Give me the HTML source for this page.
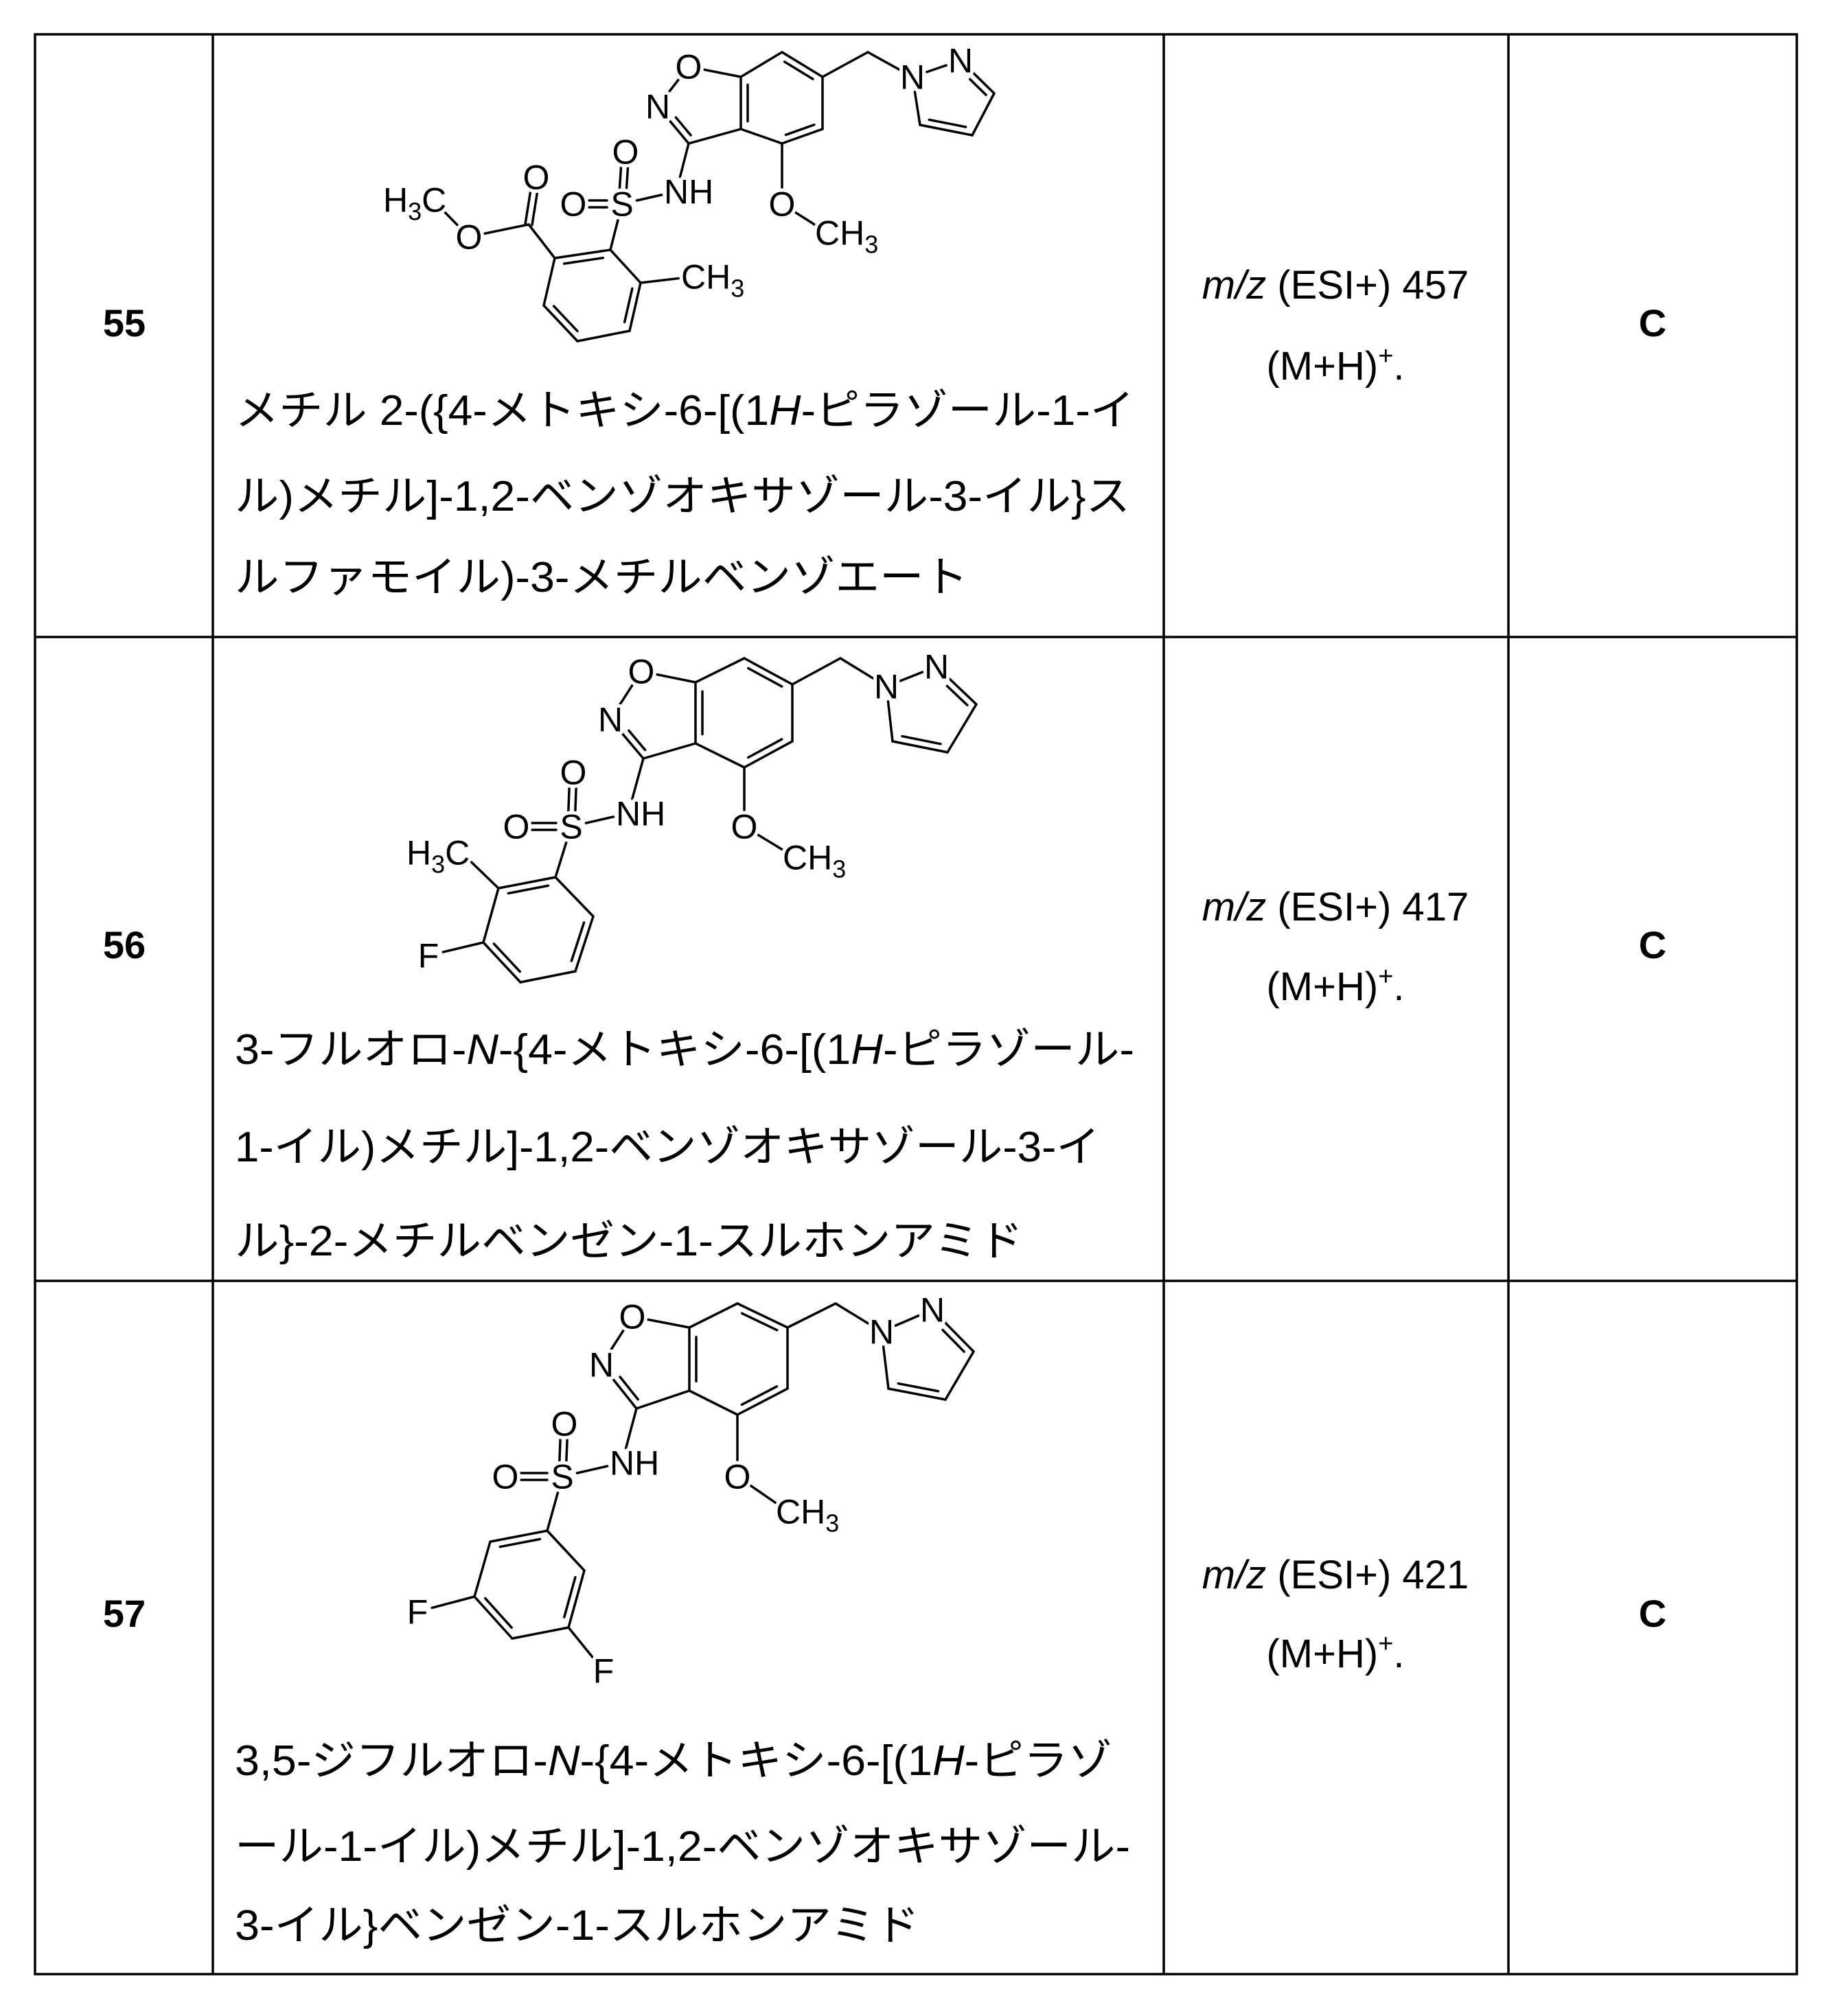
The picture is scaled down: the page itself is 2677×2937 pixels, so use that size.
<!DOCTYPE html>
<html><head><meta charset="utf-8">
<style>
html,body{margin:0;padding:0;background:#fff;}
svg{display:block;}
text{font-family:"Liberation Sans","Noto Sans CJK JP",sans-serif;fill:#000;}
.lab{font-size:50px;stroke:#fff;stroke-width:10px;paint-order:stroke;stroke-linejoin:round;}
.jp{font-size:62px;}
.num{font-size:56px;font-weight:bold;}
.ms{font-size:58px;}
</style></head>
<body>
<svg id="s" width="2677" height="2937" viewBox="0 0 2677 2937" xmlns="http://www.w3.org/2000/svg">
<rect width="2677" height="2937" fill="#fff"/>
<g stroke="#000" stroke-width="3.5" fill="none">
<rect x="51" y="50" width="2566" height="2826"/>
<line x1="310" y1="50" x2="310" y2="2876"/>
<line x1="1695" y1="50" x2="1695" y2="2876"/>
<line x1="2197" y1="50" x2="2197" y2="2876"/>
<line x1="51" y1="928" x2="2617" y2="928"/>
<line x1="51" y1="1866" x2="2617" y2="1866"/>
</g>
<g id="bonds" stroke="#000" stroke-width="3.5" stroke-linecap="round"></g>

<!-- Row 55 labels -->
<g class="lab">
<text x="1003" y="97" dy="0.35em" text-anchor="middle">O</text>
<text x="958" y="155" dy="0.35em" text-anchor="middle">N</text>
<text x="1139" y="297" dy="0.35em" text-anchor="middle">O</text>
<text x="1187" y="339" dy="0.35em">CH<tspan font-size="36" dy="12">3</tspan></text>
<text x="1329" y="112" dy="0.35em" text-anchor="middle">N</text>
<text x="1399" y="88" dy="0.35em" text-anchor="middle">N</text>
<text x="967" y="279" dy="0.35em">NH</text>
<text x="906" y="297" dy="0.35em" text-anchor="middle">S</text>
<text x="911" y="221" dy="0.35em" text-anchor="middle">O</text>
<text x="835" y="297" dy="0.35em" text-anchor="middle">O</text>
<text x="992" y="403" dy="0.35em">CH<tspan font-size="36" dy="12">3</tspan></text>
<text x="781" y="258" dy="0.35em" text-anchor="middle">O</text>
<text x="683" y="345" dy="0.35em" text-anchor="middle">O</text>
<text x="558" y="291" dy="0.35em">H<tspan font-size="36" dy="12">3</tspan><tspan dy="-12">C</tspan></text>
</g>
<!-- Row 56 labels -->
<g class="lab">
<text x="934" y="978" dy="0.35em" text-anchor="middle">O</text>
<text x="889" y="1048" dy="0.35em" text-anchor="middle">N</text>
<text x="1084" y="1204" dy="0.35em" text-anchor="middle">O</text>
<text x="1140" y="1249" dy="0.35em">CH<tspan font-size="36" dy="12">3</tspan></text>
<text x="1291" y="1000" dy="0.35em" text-anchor="middle">N</text>
<text x="1364" y="971" dy="0.35em" text-anchor="middle">N</text>
<text x="897" y="1185" dy="0.35em">NH</text>
<text x="832" y="1204" dy="0.35em" text-anchor="middle">S</text>
<text x="835" y="1125" dy="0.35em" text-anchor="middle">O</text>
<text x="752" y="1204" dy="0.35em" text-anchor="middle">O</text>
<text x="592" y="1242" dy="0.35em">H<tspan font-size="36" dy="12">3</tspan><tspan dy="-12">C</tspan></text>
<text x="624" y="1392" dy="0.35em" text-anchor="middle">F</text>
</g>
<!-- Row 57 labels -->
<g class="lab">
<text x="921" y="1918" dy="0.35em" text-anchor="middle">O</text>
<text x="876" y="1988" dy="0.35em" text-anchor="middle">N</text>
<text x="1074" y="2151" dy="0.35em" text-anchor="middle">O</text>
<text x="1130" y="2202" dy="0.35em">CH<tspan font-size="36" dy="12">3</tspan></text>
<text x="1284" y="1940" dy="0.35em" text-anchor="middle">N</text>
<text x="1358" y="1908" dy="0.35em" text-anchor="middle">N</text>
<text x="888" y="2131" dy="0.35em">NH</text>
<text x="819" y="2151" dy="0.35em" text-anchor="middle">S</text>
<text x="822" y="2074" dy="0.35em" text-anchor="middle">O</text>
<text x="736" y="2151" dy="0.35em" text-anchor="middle">O</text>
<text x="608" y="2348" dy="0.35em" text-anchor="middle">F</text>
<text x="879" y="2434" dy="0.35em" text-anchor="middle">F</text>
</g>

<!-- Japanese names -->
<text class="jp" x="342" y="619" textLength="1310" lengthAdjust="spacingAndGlyphs">メチル 2-({4-メトキシ-6-[(1<tspan font-style="italic">H</tspan>-ピラゾール-1-イ</text>
<text class="jp" x="342" y="744" textLength="1304" lengthAdjust="spacingAndGlyphs">ル)メチル]-1,2-ベンゾオキサゾール-3-イル}ス</text>
<text class="jp" x="342" y="862" textLength="1068" lengthAdjust="spacingAndGlyphs">ルファモイル)-3-メチルベンゾエート</text>

<text class="jp" x="342" y="1550" textLength="1310" lengthAdjust="spacingAndGlyphs">3-フルオロ-<tspan font-style="italic">N</tspan>-{4-メトキシ-6-[(1<tspan font-style="italic">H</tspan>-ピラゾール-</text>
<text class="jp" x="342" y="1692" textLength="1260" lengthAdjust="spacingAndGlyphs">1-イル)メチル]-1,2-ベンゾオキサゾール-3-イ</text>
<text class="jp" x="342" y="1829" textLength="1148" lengthAdjust="spacingAndGlyphs">ル}-2-メチルベンゼン-1-スルホンアミド</text>

<text class="jp" x="342" y="2586" textLength="1278" lengthAdjust="spacingAndGlyphs">3,5-ジフルオロ-<tspan font-style="italic">N</tspan>-{4-メトキシ-6-[(1<tspan font-style="italic">H</tspan>-ピラゾ</text>
<text class="jp" x="342" y="2711" textLength="1304" lengthAdjust="spacingAndGlyphs">ール-1-イル)メチル]-1,2-ベンゾオキサゾール-</text>
<text class="jp" x="342" y="2826" textLength="997" lengthAdjust="spacingAndGlyphs">3-イル}ベンゼン-1-スルホンアミド</text>

<!-- numbers -->
<text class="num" x="181" y="490" text-anchor="middle">55</text>
<text class="num" x="181" y="1396" text-anchor="middle">56</text>
<text class="num" x="181" y="2370" text-anchor="middle">57</text>
<text class="num" x="2407" y="490" text-anchor="middle">C</text>
<text class="num" x="2407" y="1396" text-anchor="middle">C</text>
<text class="num" x="2407" y="2370" text-anchor="middle">C</text>

<text class="ms" x="1945" y="435" text-anchor="middle"><tspan font-style="italic">m/z</tspan> (ESI+) 457</text>
<text class="ms" x="1945" y="553" text-anchor="middle">(M+H)<tspan font-size="38" dy="-22">+</tspan><tspan dy="22">.</tspan></text>
<text class="ms" x="1945" y="1341" text-anchor="middle"><tspan font-style="italic">m/z</tspan> (ESI+) 417</text>
<text class="ms" x="1945" y="1457" text-anchor="middle">(M+H)<tspan font-size="38" dy="-22">+</tspan><tspan dy="22">.</tspan></text>
<text class="ms" x="1945" y="2314" text-anchor="middle"><tspan font-style="italic">m/z</tspan> (ESI+) 421</text>
<text class="ms" x="1945" y="2429" text-anchor="middle">(M+H)<tspan font-size="38" dy="-22">+</tspan><tspan dy="22">.</tspan></text>
</svg>
<script>
(function(){
var g=document.getElementById('bonds'),NS='http://www.w3.org/2000/svg';
var R={O1:23,N2:22,Om:23,P1:22,P2:22,NH:22,S:22,So1:23,So2:23,Eo1:23,Eo2:23,F1:22,F2:22,Mc:20,Bm:20,Em:20};
function L(a,b){var l=document.createElementNS(NS,'line');l.setAttribute('x1',a[0]);l.setAttribute('y1',a[1]);l.setAttribute('x2',b[0]);l.setAttribute('y2',b[1]);g.appendChild(l);}
function cen(A,names){var x=0,y=0;names.forEach(function(n){x+=A[n][0];y+=A[n][1];});return [x/names.length,y/names.length];}
function draw(A,bonds){
 bonds.forEach(function(bd){
  var a0=A[bd[0]],b0=A[bd[1]],t=bd[2]||1;
  var dx=b0[0]-a0[0],dy=b0[1]-a0[1],len=Math.sqrt(dx*dx+dy*dy),ux=dx/len,uy=dy/len,nx=-uy,ny=ux;
  var ra=R[bd[0]]||0,rb=R[bd[1]]||0;
  var a=[a0[0]+ux*ra,a0[1]+uy*ra],b=[b0[0]-ux*rb,b0[1]-uy*rb];
  if(t==='d'){var o=5;L([a[0]+nx*o,a[1]+ny*o],[b[0]+nx*o,b[1]+ny*o]);L([a[0]-nx*o,a[1]-ny*o],[b[0]-nx*o,b[1]-ny*o]);return;}
  L(a,b);
  if(t===2){var c=bd[3];var mx=(a0[0]+b0[0])/2,my=(a0[1]+b0[1])/2;
   var s=((c[0]-mx)*nx+(c[1]-my)*ny)>0?1:-1;var o=10*s;
   var bx=b[0]-a[0],by=b[1]-a[1],p=0.15;
   L([a[0]+bx*p+nx*o,a[1]+by*p+ny*o],[b[0]-bx*p+nx*o,b[1]-by*p+ny*o]);}
 });
}
function core(A){
 var c5=cen(A,['O1','N2','C3','C3a','C7a']),c6=cen(A,['C3a','C7a','C7','C6','C5','C4']),cp=cen(A,['P1','P2','P3','P4','P5']),cb=cen(A,['B1','B2','B3','B4','B5','B6']);
 return [['O1','N2'],['N2','C3',2,c5],['C3','C3a'],['C3a','C7a',2,c6],['C7a','O1'],
 ['C7a','C7'],['C7','C6',2,c6],['C6','C5'],['C5','C4',2,c6],['C4','C3a'],
 ['C4','Om'],['Om','Mc'],['C6','CH2'],['CH2','P1'],
 ['P1','P2'],['P2','P3',2,cp],['P3','P4'],['P4','P5',2,cp],['P5','P1'],
 ['C3','NH'],['NH','S'],['S','So1','d'],['S','So2','d'],['S','B1'],
 ['B1','B2',2,cb],['B2','B3'],['B3','B4',2,cb],['B4','B5'],['B5','B6',2,cb],['B6','B1']];
}
var A1={O1:[1003,97],N2:[958,155],C3:[1003,209],C3a:[1079,188],C7a:[1079,112],C7:[1139,76],C6:[1198,112],C5:[1198,188],C4:[1139,209],Om:[1139,297],Mc:[1205,339],CH2:[1264,76],P1:[1329,112],P2:[1399,88],P3:[1448,136],P4:[1416,197],P5:[1340,182],NH:[985,279],S:[906,297],So1:[911,221],So2:[835,297],B1:[889,364],B2:[808,376],B3:[792,445],B4:[841,497],B5:[917,482],B6:[933,412],Bm:[1010,403],E:[770,327],Eo1:[781,258],Eo2:[683,345],Em:[630,291]};
draw(A1,core(A1).concat([['B6','Bm'],['B2','E'],['E','Eo1','d'],['E','Eo2'],['Eo2','Em']]));
var A2={O1:[934,978],N2:[889,1048],C3:[937,1105],C3a:[1013,1083],C7a:[1013,994],C7:[1084,959],C6:[1154,997],C5:[1154,1080],C4:[1084,1118],Om:[1084,1204],Mc:[1158,1249],CH2:[1224,959],P1:[1291,1000],P2:[1364,971],P3:[1422,1026],P4:[1380,1096],P5:[1300,1080],NH:[915,1185],S:[832,1204],So1:[835,1125],So2:[752,1204],B1:[809,1278],B2:[726,1294],B3:[704,1373],B4:[758,1431],B5:[838,1415],B6:[864,1335],Bm:[672,1242],F1:[624,1392]};
draw(A2,core(A2).concat([['B2','Bm'],['B3','F1']]));
var A3={O1:[921,1918],N2:[876,1988],C3:[927,2052],C3a:[1004,2026],C7a:[1004,1934],C7:[1074,1899],C6:[1147,1934],C5:[1147,2023],C4:[1074,2061],Om:[1074,2151],Mc:[1148,2202],CH2:[1217,1899],P1:[1284,1940],P2:[1358,1908],P3:[1418,1969],P4:[1377,2039],P5:[1294,2023],NH:[906,2131],S:[819,2151],So1:[822,2074],So2:[736,2151],B1:[797,2230],B2:[714,2246],B3:[691,2326],B4:[746,2387],B5:[828,2371],B6:[851,2288],F1:[608,2348],F2:[879,2434]};
draw(A3,core(A3).concat([['B3','F1'],['B5','F2']]));
})();
</script>
</body></html>
